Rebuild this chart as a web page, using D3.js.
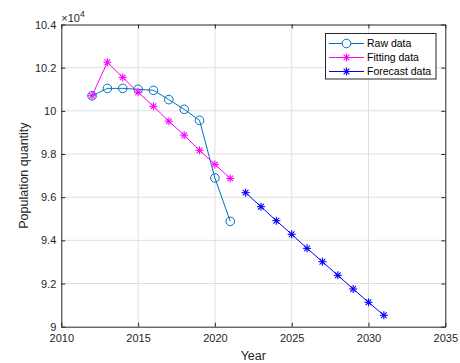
<!DOCTYPE html>
<html lang="en">
<head>
<meta charset="utf-8">
<script src="https://d3js.org/d3.v7.min.js"></script>
<style>
  body { margin: 0; background: #fff; }
  svg { font-family: "Liberation Sans", Arial, sans-serif; }
</style>
</head>
<body>
<script>
  // data (values in units of 10^4)
  var rawYears = [2012, 2013, 2014, 2015, 2016, 2017, 2018, 2019, 2020, 2021];
  var rawValues = [10.07, 10.104, 10.104, 10.10, 10.095, 10.052, 10.007, 9.956, 9.689, 9.488];
  var fitYears = [2012, 2013, 2014, 2015, 2016, 2017, 2018, 2019, 2020, 2021];
  var fitValues = [10.07, 10.225, 10.155, 10.086, 10.021, 9.952, 9.887, 9.817, 9.752, 9.687];
  var foreYears = [2022, 2023, 2024, 2025, 2026, 2027, 2028, 2029, 2030, 2031];
  var foreValues = [9.621, 9.556, 9.491, 9.428, 9.363, 9.301, 9.238, 9.175, 9.113, 9.053];
  var xTicks = [2010, 2015, 2020, 2025, 2030, 2035];
  var yTicks = [9, 9.2, 9.4, 9.6, 9.8, 10, 10.2, 10.4];
  var seriesNames = ["Raw data", "Fitting data", "Forecast data"];
  var seriesColors = ["#0072bd", "#ff00ff", "#0000ff"];

  var width = 460, height = 363;
  var pLeft = 61.3, pRight = 445.3, pTop = 24.5, pBottom = 326.7;

  var svg = d3.select('body').append('svg')
    .attr('width', width)
    .attr('height', height);

  var x = d3.scaleLinear().domain([2010, 2035]).range([pLeft, pRight]);
  var y = d3.scaleLinear().domain([9, 10.4]).range([pBottom, pTop]);

  // grid
  svg.append('g').selectAll('line')
    .data(xTicks.slice(1, -1)).join('line')
    .attr('x1', d => x(d)).attr('x2', d => x(d))
    .attr('y1', pTop).attr('y2', pBottom)
    .attr('stroke', '#dfdfdf').attr('stroke-width', 1);
  svg.append('g').selectAll('line')
    .data(yTicks.slice(1, -1)).join('line')
    .attr('y1', d => y(d)).attr('y2', d => y(d))
    .attr('x1', pLeft).attr('x2', pRight)
    .attr('stroke', '#dfdfdf').attr('stroke-width', 1);

  // axes
  var xAxis = svg.append('g')
    .attr('transform', 'translate(0,' + pBottom + ')')
    .call(d3.axisBottom(x).tickValues(xTicks).tickFormat(d3.format('d')).tickSizeInner(-4).tickSizeOuter(0).tickPadding(8));
  var xTopAxis = svg.append('g')
    .attr('transform', 'translate(0,' + pTop + ')')
    .call(d3.axisTop(x).tickValues(xTicks).tickFormat('').tickSizeInner(-4).tickSizeOuter(0));
  var yAxis = svg.append('g')
    .attr('transform', 'translate(' + pLeft + ',0)')
    .call(d3.axisLeft(y).tickValues(yTicks).tickFormat(d => d3.format('.1f')(d).replace(/\.0$/, '')).tickSizeInner(-4).tickSizeOuter(0).tickPadding(5));
  var yRightAxis = svg.append('g')
    .attr('transform', 'translate(' + pRight + ',0)')
    .call(d3.axisRight(y).tickValues(yTicks).tickFormat('').tickSizeInner(-4).tickSizeOuter(0));

  [xAxis, xTopAxis, yAxis, yRightAxis].forEach(function(g) {
    g.select('.domain').attr('stroke', '#262626');
    g.selectAll('.tick line').attr('stroke', '#262626');
    g.selectAll('text').attr('fill', '#262626').style('font-size', '11px')
      .style('font-family', '"Liberation Sans", Arial, sans-serif');
  });

  // exponent label
  var ex = svg.append('text').attr('x', pLeft).attr('y', pTop - 3)
    .attr('fill', '#262626').style('font-size', '11px');
  ex.append('tspan').text('\u00d710');
  ex.append('tspan').attr('dy', -4.5).style('font-size', '8.5px').text('4');

  // axis titles
  svg.append('text').attr('x', (pLeft + pRight) / 2).attr('y', 359.5)
    .attr('text-anchor', 'middle').attr('fill', '#262626').style('font-size', '12.5px').text('Year');
  svg.append('text').attr('transform', 'translate(28,' + ((pTop + pBottom) / 2) + ') rotate(-90)')
    .attr('text-anchor', 'middle').attr('fill', '#262626').style('font-size', '12.5px').text('Population quantity');

  var line = d3.line().x(d => x(d[0])).y(d => y(d[1]));

  function star(g, cx, cy, r, color) {
    var s = g.append('g').attr('transform', 'translate(' + cx + ',' + cy + ')')
      .attr('stroke', color).attr('stroke-width', 1.1);
    [0, 45, 90, 135].forEach(function(a) {
      var rad = a * Math.PI / 180;
      s.append('line')
        .attr('x1', -r * Math.cos(rad)).attr('y1', -r * Math.sin(rad))
        .attr('x2', r * Math.cos(rad)).attr('y2', r * Math.sin(rad));
    });
  }

  var series = [
    { xs: rawYears, ys: rawValues, color: seriesColors[0], marker: 'o' },
    { xs: fitYears, ys: fitValues, color: seriesColors[1], marker: '*' },
    { xs: foreYears, ys: foreValues, color: seriesColors[2], marker: '*' }
  ];

  var plot = svg.append('g');
  series.forEach(function(s) {
    var pts = s.xs.map((d, i) => [d, s.ys[i]]);
    plot.append('path').datum(pts)
      .attr('d', line).attr('fill', 'none')
      .attr('stroke', s.color).attr('stroke-width', 1);
    pts.forEach(function(p) {
      if (s.marker === 'o') {
        plot.append('circle').attr('cx', x(p[0])).attr('cy', y(p[1])).attr('r', 4.3)
          .attr('fill', 'none').attr('stroke', s.color).attr('stroke-width', 1);
      } else {
        star(plot, x(p[0]), y(p[1]), 4, s.color);
      }
    });
  });

  // legend
  var lg = svg.append('g');
  lg.append('rect').attr('x', 325.5).attr('y', 33.5).attr('width', 110.5).attr('height', 45.5)
    .attr('fill', '#fff').attr('stroke', '#262626').attr('stroke-width', 1);
  seriesNames.forEach(function(name, i) {
    var ly = 43.5 + i * 14;
    lg.append('line').attr('x1', 329).attr('x2', 364).attr('y1', ly).attr('y2', ly)
      .attr('stroke', seriesColors[i]).attr('stroke-width', 1);
    if (i === 0) {
      lg.append('circle').attr('cx', 346.5).attr('cy', ly).attr('r', 4.3)
        .attr('fill', '#fff').attr('stroke', seriesColors[i]);
    } else {
      star(lg, 346.5, ly, 4, seriesColors[i]);
    }
    lg.append('text').attr('x', 367).attr('y', ly + 3.9)
      .attr('fill', '#000').style('font-size', '10.5px').text(name);
  });
</script>
</body>
</html>
